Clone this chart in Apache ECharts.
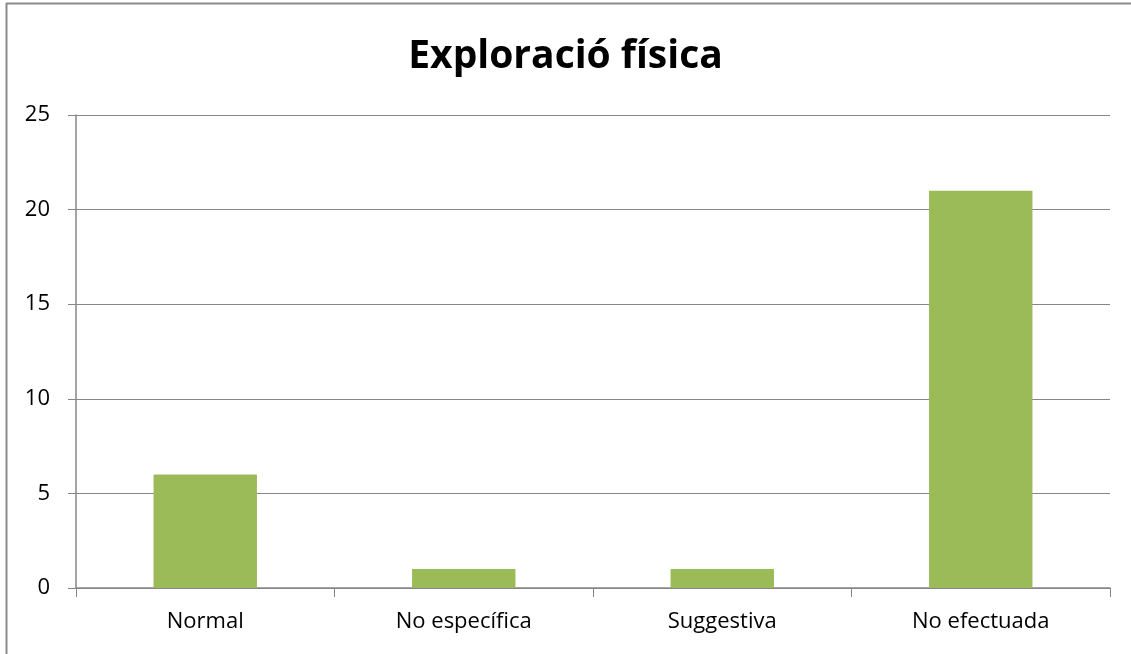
<!DOCTYPE html>
<html><head><meta charset="utf-8">
<script src="https://cdn.jsdelivr.net/npm/echarts@6/dist/echarts.min.js"></script>
<style>html,body{margin:0;padding:0;background:#fff}#c{width:1131px;height:654px}</style>
</head><body><div id="c"></div>
<script>
const title = 'Exploració física';
const categories = ['Normal', 'No específica', 'Suggestiva', 'No efectuada'];
const values = [6, 1, 1, 21];
const chart = echarts.init(document.getElementById('c'));
chart.setOption({
  animation: false,
  title: { text: title, left: 'center', top: 32, textStyle: { fontFamily: 'Open Sans', fontWeight: 'bold', fontSize: 39, color: '#000' } },
  graphic: [
    { type: 'line', shape: { x1: 6.5, y1: 3, x2: 6.5, y2: 654 }, style: { stroke: '#8a8a8a', lineWidth: 2 } },
    { type: 'line', shape: { x1: 6, y1: 3.5, x2: 1131, y2: 3.5 }, style: { stroke: '#8a8a8a', lineWidth: 2 } }
  ],
  grid: { left: 76, right: 21, top: 115, bottom: 66 },
  xAxis: {
    type: 'category', data: categories,
    axisLine: { lineStyle: { color: '#868686', width: 1.5 } },
    axisTick: { show: true, length: 9, lineStyle: { color: '#868686' } },
    axisLabel: { fontFamily: 'Open Sans', fontSize: 22, color: '#000', margin: 23 }
  },
  yAxis: {
    type: 'value', min: 0, max: 25, interval: 5,
    axisLine: { show: true, lineStyle: { color: '#868686', width: 1.5 } },
    axisTick: { show: true, length: 8, lineStyle: { color: '#868686' } },
    splitLine: { lineStyle: { color: '#868686', width: 1.2 } },
    axisLabel: { fontFamily: 'Open Sans', fontSize: 22, color: '#000', margin: 26 }
  },
  series: [{ type: 'bar', data: values, barWidth: '40%', itemStyle: { color: '#9BBB59' } }]
});
</script></body></html>
